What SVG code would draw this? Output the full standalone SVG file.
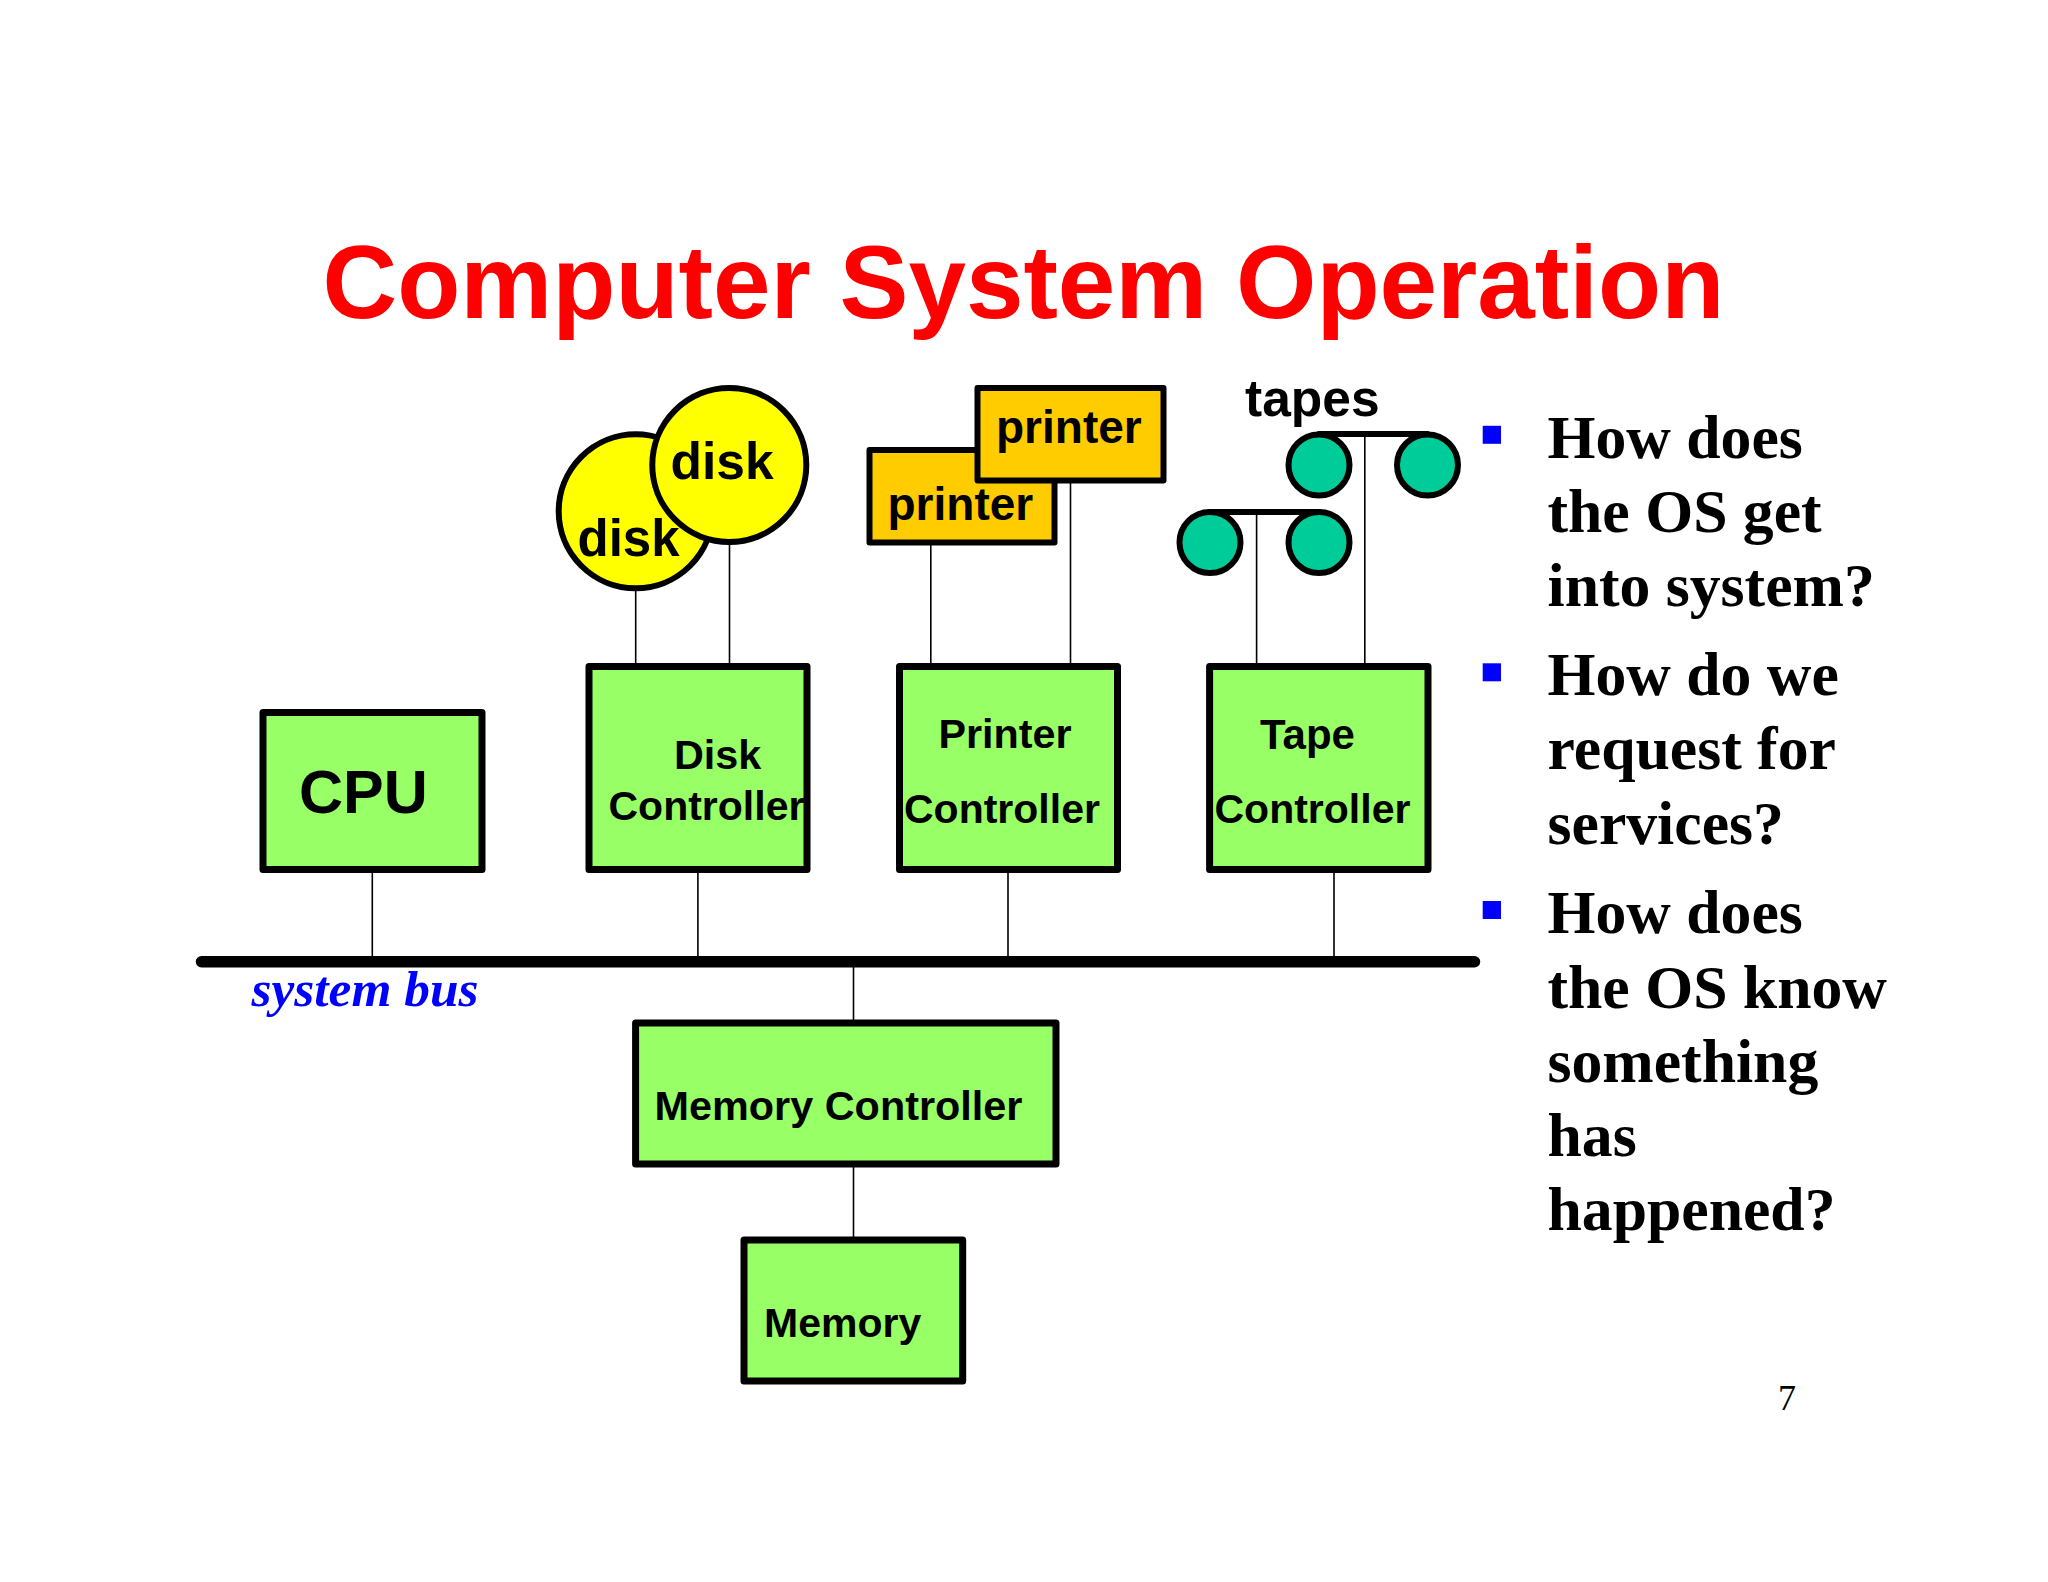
<svg xmlns="http://www.w3.org/2000/svg" width="2048" height="1582" viewBox="0 0 2048 1582">
<style>
.box{fill:#99ff66;stroke:#000;stroke-width:7;stroke-linejoin:round}
.prn{fill:#ffcc00;stroke:#000;stroke-width:6;stroke-linejoin:round}
.dsk{fill:#ffff00;stroke:#000;stroke-width:6}
.tp{fill:#00cc99;stroke:#000;stroke-width:6}
.ln{stroke:#000;stroke-width:1.6;fill:none}
.bar{stroke:#000;stroke-width:6;fill:none;stroke-linecap:round}
.s{font-family:"Liberation Sans",Arial,sans-serif;font-weight:700;fill:#000}
.q{font-family:"Liberation Serif","Times New Roman",serif;font-weight:700;font-size:61.7px;fill:#000}
.b{fill:#0000ff}
</style>
<rect width="2048" height="1582" fill="#fff"/>
<text id="title" x="322.5" y="318" class="s" font-size="103.4" style="fill:#ff0000">Computer System Operation</text>
<g id="connectors">
<path class="ln" d="M372.3 872V956M697.9 872V956M1008 872V956M1334 872V956M853.5 967V1020M853.5 1167V1237M635.7 591V664M729.5 545V664M930.8 545V664M1070.5 483V664M1256.6 512V664M1364.8 434V664"/>
<line x1="201.5" y1="961.7" x2="1474.5" y2="961.7" stroke="#000" stroke-width="11.5" stroke-linecap="round"/>
</g>
<g id="cpu"><rect class="box" x="263" y="712.4" width="219" height="157"/><text class="s" x="299" y="813" font-size="61">CPU</text></g>
<g id="disk-1"><circle class="dsk" cx="635.7" cy="511.3" r="77"/><text class="s" x="577.5" y="556" font-size="51">disk</text></g>
<g id="disk-2"><circle class="dsk" cx="729.3" cy="465" r="77"/><text class="s" x="670.5" y="479" font-size="51.5">disk</text></g>
<g id="printer-1"><rect class="prn" x="869.5" y="450" width="185" height="92.5"/><text class="s" x="887.5" y="520" font-size="46">printer</text></g>
<g id="printer-2"><rect class="prn" x="977.5" y="388" width="186" height="92.5"/><text class="s" x="996" y="442.5" font-size="46">printer</text></g>
<g id="tapes-label"><text class="s" x="1245" y="416" font-size="51.5">tapes</text></g>
<g id="tape-2">
<path class="bar" d="M1319 434H1427.5"/>
<circle class="tp" cx="1319" cy="465" r="30.5"/><circle class="tp" cx="1427.5" cy="465" r="30.5"/>
</g>
<g id="tape-1">
<path class="bar" d="M1210 512H1319"/>
<circle class="tp" cx="1210" cy="542.5" r="30.5"/><circle class="tp" cx="1319" cy="542.5" r="30.5"/>
</g>
<g id="disk-controller"><rect class="box" x="589" y="666.5" width="218" height="203"/><text class="s" x="674" y="768.5" font-size="41.3">Disk</text><text class="s" x="608.5" y="820" font-size="41">Controller</text></g>
<g id="printer-controller"><rect class="box" x="899.5" y="666.5" width="218" height="203"/><text class="s" x="938.5" y="748" font-size="41.3">Printer</text><text class="s" x="904" y="823" font-size="41">Controller</text></g>
<g id="tape-controller"><rect class="box" x="1209.6" y="666.5" width="218.4" height="203"/><text class="s" x="1260" y="749" font-size="42">Tape</text><text class="s" x="1214.5" y="823" font-size="41">Controller</text></g>
<g id="memory-controller"><rect class="box" x="635.6" y="1023" width="420.4" height="141"/><text class="s" x="654.5" y="1120" font-size="41.4">Memory Controller</text></g>
<g id="memory"><rect class="box" x="744" y="1240" width="218.7" height="141"/><text class="s" x="764" y="1337" font-size="41">Memory</text></g>
<text id="bus-label" x="251.5" y="1006" font-family="Liberation Serif,Times New Roman,serif" font-weight="700" font-style="italic" font-size="51.4" fill="#0000ff">system bus</text>
<g id="questions">
<rect class="b" x="1482.7" y="425.8" width="18.3" height="18"/>
<rect class="b" x="1482.7" y="663.3" width="18.3" height="18"/>
<rect class="b" x="1482.7" y="901" width="18.3" height="18"/>
<text class="q" x="1547.5" y="457.5">How does</text>
<text class="q" x="1547.5" y="531.5">the OS get</text>
<text class="q" x="1547.5" y="605.7">into system?</text>
<text class="q" x="1547.5" y="695">How do we</text>
<text class="q" x="1547.5" y="769.3">request for</text>
<text class="q" x="1547.5" y="843.5">services?</text>
<text class="q" x="1547.5" y="933">How does</text>
<text class="q" x="1547.5" y="1007.5">the OS know</text>
<text class="q" x="1547.5" y="1082">something</text>
<text class="q" x="1547.5" y="1156">has</text>
<text class="q" x="1547.5" y="1230.3">happened?</text>
</g>
<text id="page" x="1778" y="1410" font-family="Liberation Serif,Times New Roman,serif" font-size="36" fill="#000">7</text>
</svg>
